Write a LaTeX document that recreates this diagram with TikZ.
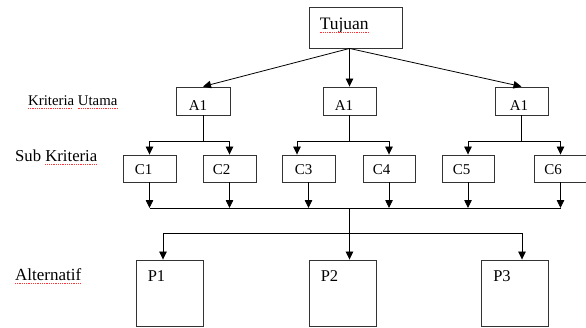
\documentclass[tikz,border=0pt]{standalone}
\usepackage{fontspec}
\setmainfont{Liberation Serif}
\usetikzlibrary{arrows.meta}
\definecolor{boxgray}{HTML}{333333}
\begin{document}
\begin{tikzpicture}[x=1pt,y=-1pt,
  box/.style={draw=boxgray, line width=0.9pt, inner sep=0pt, fill=white},
  abox/.style={box, minimum width=53pt, minimum height=28pt},
  cbox/.style={box, minimum width=53pt, minimum height=27pt},
  pbox/.style={box, minimum width=67pt, minimum height=66pt},
  txt/.style={inner sep=0pt, anchor=base west, font=\fontsize{15}{18}\selectfont},
  conn/.style={line width=0.8pt, draw=black},
  arr/.style={conn, -{Triangle[length=8pt,width=7.5pt]}},
  spell/.style={draw=red!80, line width=0.7pt, dash pattern=on 1pt off 0.8pt}]
\useasboundingbox (0,0) rectangle (586,327);

% boxes
\node[box, minimum width=93pt, minimum height=41pt] (tuj) at (355.5,27.5) {};
\node[abox, minimum width=54pt] (a1l) at (203,101) {};
\node[abox] (a1m) at (349.5,101) {};
\node[abox] (a1r) at (521.5,101) {};
\node[cbox] (c1) at (149.5,168.5) {};
\node[cbox] (c2) at (229.5,168.5) {};
\node[cbox] (c3) at (308.5,168.5) {};
\node[cbox, minimum width=52pt] (c4) at (389,168.5) {};
\node[cbox, minimum width=52pt] (c5) at (468,168.5) {};
\node[cbox, minimum width=52pt] (c6) at (560.5,168.5) {};
\node[pbox] (p1) at (169.5,293) {};
\node[pbox] (p2) at (342.5,293) {};
\node[pbox] (p3) at (515,293) {};

% texts in boxes
\node[txt, font=\fontsize{17.5}{20}\selectfont] (tujt) at ([xshift=11pt,yshift=-1.5pt]tuj.west) {Tujuan};
\node[txt] (a1lt) at ([xshift=13pt,yshift=-9pt]a1l.west) {A1};
\node[txt] (a1mt) at ([xshift=12pt,yshift=-9pt]a1m.west) {A1};
\node[txt] (a1rt) at ([xshift=15pt,yshift=-9pt]a1r.west) {A1};
\node[txt] (c1t) at ([xshift=12pt,yshift=-5.5pt]c1.west) {C1};
\node[txt] (c2t) at ([xshift=10pt,yshift=-5.5pt]c2.west) {C2};
\node[txt] (c3t) at ([xshift=13pt,yshift=-5.5pt]c3.west) {C3};
\node[txt] (c4t) at ([xshift=10pt,yshift=-5.5pt]c4.west) {C4};
\node[txt] (c5t) at ([xshift=11pt,yshift=-5.5pt]c5.west) {C5};
\node[txt] (c6t) at ([xshift=10pt,yshift=-5.5pt]c6.west) {C6};
\node[txt, font=\fontsize{16.5}{19}\selectfont] (p1t) at ([xshift=12pt,yshift=-22pt]p1.north west) {P1};
\node[txt, font=\fontsize{16.5}{19}\selectfont] (p2t) at ([xshift=12pt,yshift=-22pt]p2.north west) {P2};
\node[txt, font=\fontsize{16.5}{19}\selectfont] (p3t) at ([xshift=12pt,yshift=-22pt]p3.north west) {P3};

% side labels
\node[txt, font=\fontsize{14.8}{17}\selectfont] (ku) at (28,105) {Kriteria Utama};
\node[txt, font=\fontsize{16.7}{19}\selectfont] (sk) at (15,161) {Sub Kriteria};
\node[txt, font=\fontsize{17}{19}\selectfont] (alt) at (15,280) {Alternatif};

% spelling underlines
\draw[spell] ([yshift=-3pt]tujt.base west) -- ([yshift=-3pt]tujt.base east);
\draw[spell] ([yshift=-3pt]ku.base west) -- ([yshift=-3pt,xshift=-46pt]ku.base east);
\draw[spell] ([yshift=-3pt,xshift=-40pt]ku.base east) -- ([yshift=-3pt]ku.base east);
\draw[spell] ([yshift=-3pt,xshift=-52pt]sk.base east) -- ([yshift=-3pt]sk.base east);
\draw[spell] ([yshift=-3pt]alt.base west) -- ([yshift=-3pt]alt.base east);

% Tujuan to A1
\coordinate (ts) at ([xshift=-6pt]tuj.south);
\draw[arr] (ts) -- (a1l.north);
\draw[arr] (ts) -- (a1m.north);
\draw[arr] (ts) -- (a1r.north);

% A1 to C
\coordinate (yb1) at (0,141);
\coordinate (c3a) at ([xshift=-11.5pt]c3.north);
\draw[conn] (a1l.south) -- (a1l.south |- yb1);
\draw[conn] (a1m.south) -- (a1m.south |- yb1);
\draw[conn] (a1r.south) -- (a1r.south |- yb1);
\draw[conn] (c1.north |- yb1) -- (c2.north |- yb1);
\draw[conn] (c3a |- yb1) -- (c4.north |- yb1);
\draw[conn] (c5.north |- yb1) -- (c6.north |- yb1);
\draw[arr] (c1.north |- yb1) -- (c1.north);
\draw[arr] (c2.north |- yb1) -- (c2.north);
\draw[arr] (c3a |- yb1) -- (c3a);
\draw[arr] (c4.north |- yb1) -- (c4.north);
\draw[arr] (c5.north |- yb1) -- (c5.north);
\draw[arr] (c6.north |- yb1) -- (c6.north);

% C to collector bar
\coordinate (yb2) at (0,208);
\draw[arr] (c1.south) -- (c1.south |- yb2);
\draw[arr] (c2.south) -- (c2.south |- yb2);
\draw[arr] (c3.south) -- (c3.south |- yb2);
\draw[arr] (c4.south) -- (c4.south |- yb2);
\draw[arr] (c5.south) -- (c5.south |- yb2);
\draw[arr] (c6.south) -- (c6.south |- yb2);
\draw[conn] (c1.south |- yb2) -- (c6.south |- yb2);

% bar to P
\coordinate (yb3) at (0,233);
\coordinate (p1a) at ([xshift=-6.5pt]p1.north);
\coordinate (p3a) at ([xshift=7pt]p3.north);
\draw[arr] (a1m.south |- yb2) -- (a1m.south |- p2.north);
\draw[conn] (p1a |- yb3) -- (p3a |- yb3);
\draw[arr] (p1a |- yb3) -- (p1a);
\draw[arr] (p3a |- yb3) -- (p3a);
\end{tikzpicture}
\end{document}
